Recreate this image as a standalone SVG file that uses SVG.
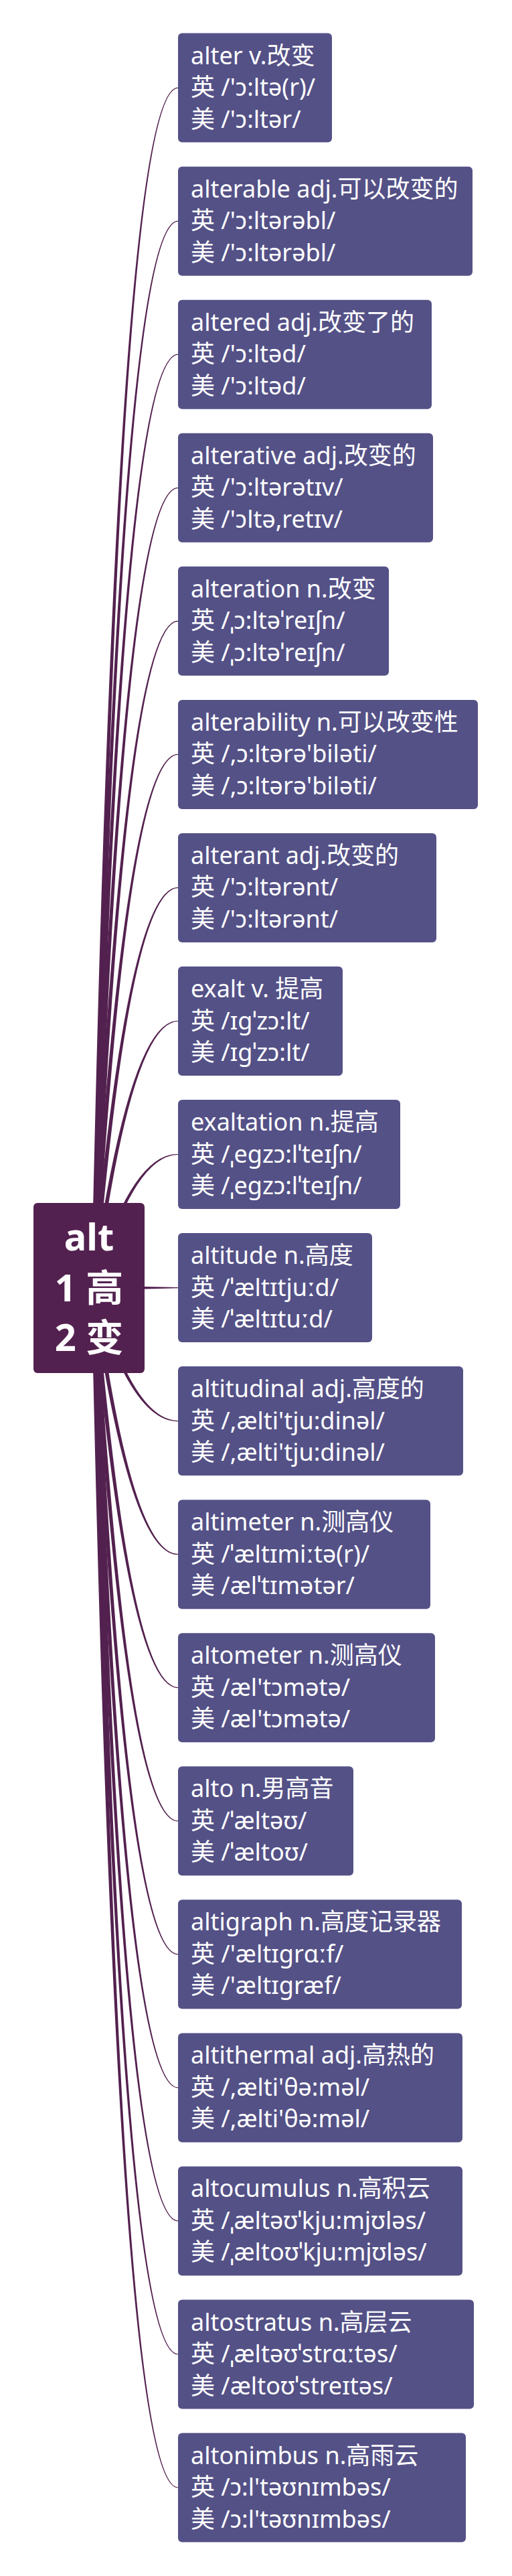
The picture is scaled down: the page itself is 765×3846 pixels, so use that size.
<svg xmlns="http://www.w3.org/2000/svg" width="765" height="3846" viewBox="0 0 765 3846">
<style>
.bg{fill:#ffffff}
.conn{fill:#53214F;stroke:none}
.node rect{fill:#545187}
.node text{fill:#ffffff;font-family:"Noto Sans","Noto Sans CJK SC",sans-serif;font-size:36px}
#root rect{fill:#53214F}
#root text{fill:#ffffff;font-family:"Noto Sans","Noto Sans CJK SC",sans-serif;font-size:56px;font-weight:bold;text-anchor:middle}
</style>
<rect class="bg" x="0" y="0" width="765" height="3846"/>
<g id="connectors">
<path class="conn" d="M136.5 1923 Q173.5 129.6 266 130.5 L266 131.7 Q176.5 132.6 143.5 1923Z"/>
<path class="conn" d="M136.5 1923 Q176.3 328.7 266 329.6 L266 330.8 Q179.3 331.7 143.5 1923Z"/>
<path class="conn" d="M136.5 1923 Q179.1 527.7 266 528.6 L266 529.8 Q182.1 530.7 143.5 1923Z"/>
<path class="conn" d="M136.5 1923 Q181.8 726.8 266 727.7 L266 728.9 Q184.8 729.8 143.5 1923Z"/>
<path class="conn" d="M136.5 1923 Q184.6 925.8 266 926.7 L266 927.9 Q187.6 928.8 143.5 1923Z"/>
<path class="conn" d="M136.5 1923 Q187.4 1124.9 266 1125.8 L266 1127 Q190.4 1127.9 143.5 1923Z"/>
<path class="conn" d="M136.5 1923 Q190.2 1323.9 266 1324.8 L266 1326 Q193.2 1326.9 143.5 1923Z"/>
<path class="conn" d="M136.5 1923 Q192.9 1523 266 1523.9 L266 1525.1 Q195.9 1526 143.5 1923Z"/>
<path class="conn" d="M136.5 1923 Q195.7 1722 266 1722.9 L266 1724.1 Q198.7 1725 143.5 1923Z"/>
<path class="conn" d="M140 1919.5 L266 1921.9 L266 1923.3 L140 1926.5Z"/>
<path class="conn" d="M136.5 1923 Q195.7 2123.1 266 2122.2 L266 2121 Q198.7 2120.1 143.5 1923Z"/>
<path class="conn" d="M136.5 1923 Q193 2322.2 266 2321.3 L266 2320.1 Q196 2319.2 143.5 1923Z"/>
<path class="conn" d="M136.5 1923 Q190.2 2521.2 266 2520.3 L266 2519.1 Q193.2 2518.2 143.5 1923Z"/>
<path class="conn" d="M136.5 1923 Q187.4 2720.3 266 2719.4 L266 2718.2 Q190.4 2717.3 143.5 1923Z"/>
<path class="conn" d="M136.5 1923 Q184.6 2919.3 266 2918.4 L266 2917.2 Q187.6 2916.3 143.5 1923Z"/>
<path class="conn" d="M136.5 1923 Q181.8 3118.4 266 3117.5 L266 3116.3 Q184.8 3115.4 143.5 1923Z"/>
<path class="conn" d="M136.5 1923 Q179.1 3317.4 266 3316.5 L266 3315.3 Q182.1 3314.4 143.5 1923Z"/>
<path class="conn" d="M136.5 1923 Q176.3 3516.5 266 3515.6 L266 3514.4 Q179.3 3513.5 143.5 1923Z"/>
<path class="conn" d="M136.5 1923 Q173.5 3715.5 266 3714.6 L266 3713.4 Q176.5 3712.5 143.5 1923Z"/>
</g>
<g id="root">
<rect x="50" y="1796" width="166" height="254" rx="6"/>
<text><tspan x="133" y="1867">alt</tspan><tspan x="133" y="1943">1 高</tspan><tspan x="133" y="2017">2 变</tspan></text>
</g>
<g id="n0" class="node"><rect x="266" y="49.6" width="230" height="163" rx="6"/><text><tspan x="285" y="95.6">alter v.改变</tspan><tspan x="285" y="143.1">英 /'ɔ:ltə(r)/</tspan><tspan x="285" y="190.6">美 /'ɔ:ltər/</tspan></text></g>
<g id="n1" class="node"><rect x="266" y="248.7" width="440" height="163" rx="6"/><text><tspan x="285" y="294.7">alterable adj.可以改变的</tspan><tspan x="285" y="342.2">英 /'ɔ:ltərəbl/</tspan><tspan x="285" y="389.7">美 /'ɔ:ltərəbl/</tspan></text></g>
<g id="n2" class="node"><rect x="266" y="447.7" width="379" height="163" rx="6"/><text><tspan x="285" y="493.7">altered adj.改变了的</tspan><tspan x="285" y="541.2">英 /'ɔ:ltəd/</tspan><tspan x="285" y="588.7">美 /'ɔ:ltəd/</tspan></text></g>
<g id="n3" class="node"><rect x="266" y="646.8" width="381" height="163" rx="6"/><text><tspan x="285" y="692.8">alterative adj.改变的</tspan><tspan x="285" y="740.3">英 /'ɔ:ltərətɪv/</tspan><tspan x="285" y="787.8">美 /'ɔltə,retɪv/</tspan></text></g>
<g id="n4" class="node"><rect x="266" y="845.8" width="315" height="163" rx="6"/><text><tspan x="285" y="891.8">alteration n.改变</tspan><tspan x="285" y="939.3">英 /ˌɔ:ltəˈreɪʃn/</tspan><tspan x="285" y="986.8">美 /ˌɔ:ltəˈreɪʃn/</tspan></text></g>
<g id="n5" class="node"><rect x="266" y="1044.9" width="448" height="163" rx="6"/><text><tspan x="285" y="1090.9">alterability n.可以改变性</tspan><tspan x="285" y="1138.4">英 /,ɔ:ltərə'biləti/</tspan><tspan x="285" y="1185.9">美 /,ɔ:ltərə'biləti/</tspan></text></g>
<g id="n6" class="node"><rect x="266" y="1243.9" width="386" height="163" rx="6"/><text><tspan x="285" y="1289.9">alterant adj.改变的</tspan><tspan x="285" y="1337.4">英 /'ɔ:ltərənt/</tspan><tspan x="285" y="1384.9">美 /'ɔ:ltərənt/</tspan></text></g>
<g id="n7" class="node"><rect x="266" y="1443" width="246" height="163" rx="6"/><text><tspan x="285" y="1489">exalt v. 提高</tspan><tspan x="285" y="1536.5">英 /ɪgˈzɔ:lt/</tspan><tspan x="285" y="1584">美 /ɪgˈzɔ:lt/</tspan></text></g>
<g id="n8" class="node"><rect x="266" y="1642" width="332" height="163" rx="6"/><text><tspan x="285" y="1688">exaltation n.提高</tspan><tspan x="285" y="1735.5">英 /ˌegzɔ:lˈteɪʃn/</tspan><tspan x="285" y="1783">美 /ˌegzɔ:lˈteɪʃn/</tspan></text></g>
<g id="n9" class="node"><rect x="266" y="1841.1" width="290" height="163" rx="6"/><text><tspan x="285" y="1887.1">altitude n.高度</tspan><tspan x="285" y="1934.6">英 /ˈæltɪtjuːd/</tspan><tspan x="285" y="1982.1">美 /ˈæltɪtuːd/</tspan></text></g>
<g id="n10" class="node"><rect x="266" y="2040.1" width="426" height="163" rx="6"/><text><tspan x="285" y="2086.1">altitudinal adj.高度的</tspan><tspan x="285" y="2133.6">英 /,ælti'tju:dinəl/</tspan><tspan x="285" y="2181.1">美 /,ælti'tju:dinəl/</tspan></text></g>
<g id="n11" class="node"><rect x="266" y="2239.2" width="377" height="163" rx="6"/><text><tspan x="285" y="2285.2">altimeter n.测高仪</tspan><tspan x="285" y="2332.7">英 /ˈæltɪmiːtə(r)/</tspan><tspan x="285" y="2380.2">美 /ælˈtɪmətər/</tspan></text></g>
<g id="n12" class="node"><rect x="266" y="2438.2" width="384" height="163" rx="6"/><text><tspan x="285" y="2484.2">altometer n.测高仪</tspan><tspan x="285" y="2531.7">英 /æl'tɔmətə/</tspan><tspan x="285" y="2579.2">美 /æl'tɔmətə/</tspan></text></g>
<g id="n13" class="node"><rect x="266" y="2637.3" width="262" height="163" rx="6"/><text><tspan x="285" y="2683.3">alto n.男高音</tspan><tspan x="285" y="2730.8">英 /ˈæltəʊ/</tspan><tspan x="285" y="2778.3">美 /ˈæltoʊ/</tspan></text></g>
<g id="n14" class="node"><rect x="266" y="2836.3" width="424" height="163" rx="6"/><text><tspan x="285" y="2882.3">altigraph n.高度记录器</tspan><tspan x="285" y="2929.8">英 /'æltɪgrɑːf/</tspan><tspan x="285" y="2977.3">美 /'æltɪgræf/</tspan></text></g>
<g id="n15" class="node"><rect x="266" y="3035.4" width="425" height="163" rx="6"/><text><tspan x="285" y="3081.4">altithermal adj.高热的</tspan><tspan x="285" y="3128.9">英 /,ælti'θə:məl/</tspan><tspan x="285" y="3176.4">美 /,ælti'θə:məl/</tspan></text></g>
<g id="n16" class="node"><rect x="266" y="3234.4" width="425" height="163" rx="6"/><text><tspan x="285" y="3280.4">altocumulus n.高积云</tspan><tspan x="285" y="3327.9">英 /ˌæltəʊˈkju:mjʊləs/</tspan><tspan x="285" y="3375.4">美 /ˌæltoʊˈkju:mjʊləs/</tspan></text></g>
<g id="n17" class="node"><rect x="266" y="3433.5" width="442" height="163" rx="6"/><text><tspan x="285" y="3479.5">altostratus n.高层云</tspan><tspan x="285" y="3527">英 /ˌæltəʊˈstrɑːtəs/</tspan><tspan x="285" y="3574.5">美 /æltoʊˈstreɪtəs/</tspan></text></g>
<g id="n18" class="node"><rect x="266" y="3632.5" width="430" height="163" rx="6"/><text><tspan x="285" y="3678.5">altonimbus n.高雨云</tspan><tspan x="285" y="3726">英 /ɔ:l'təʊnɪmbəs/</tspan><tspan x="285" y="3773.5">美 /ɔ:l'təʊnɪmbəs/</tspan></text></g>
</svg>
